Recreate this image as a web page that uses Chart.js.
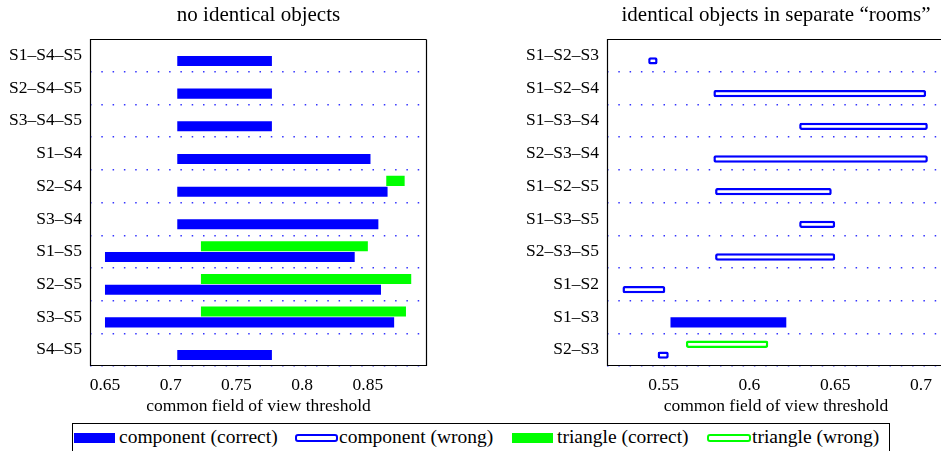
<!DOCTYPE html>
<html>
<head>
<meta charset="utf-8">
<script src="https://cdn.jsdelivr.net/npm/chart.js@4/dist/chart.umd.min.js"></script>
<style>
  html, body { margin: 0; padding: 0; background: #fff; }
  body { width: 941px; height: 451px; position: relative; overflow: hidden; font-family: "Liberation Serif", serif; }
  canvas { position: absolute; top: 0; }
  #left { left: 0; }
  #right { left: 470px; }
  #legend { position: absolute; left: 72px; top: 423px; width: 816px; height: 40px; border: 1px solid #000; }
  .sw { position: absolute; box-sizing: border-box; }
  .txt { position: absolute; font-size: 19.5px; line-height: 20px; white-space: nowrap; color: #000; }
</style>
</head>
<body>
<canvas id="left" width="470" height="422"></canvas>
<canvas id="right" width="475" height="422"></canvas>

<div id="legend"></div>
<div class="sw" style="left:74px;top:433px;width:41px;height:10px;background:#0000ff"></div>
<div class="txt" style="left:119px;top:427px">component (correct)</div>
<div class="sw" style="left:295px;top:434px;width:43px;height:8px;border:2.5px solid #0000ff;border-radius:3px"></div>
<div class="txt" style="left:339px;top:427px">component (wrong)</div>
<div class="sw" style="left:512px;top:433px;width:41px;height:10px;background:#00ff00"></div>
<div class="txt" style="left:557px;top:427px">triangle (correct)</div>
<div class="sw" style="left:707px;top:434px;width:44px;height:8px;border:2.5px solid #00ff00;border-radius:3px"></div>
<div class="txt" style="left:752px;top:427px">triangle (wrong)</div>

<script>
// left panel: no identical objects
const labelsLeft = ['S1–S4–S5', 'S2–S4–S5', 'S3–S4–S5', 'S1–S4', 'S2–S4', 'S3–S4', 'S1–S5', 'S2–S5', 'S3–S5', 'S4–S5'];
const compCorrectLeft = [[0.705, 0.777], [0.705, 0.777], [0.705, 0.777], [0.705, 0.852], [0.705, 0.865],
  [0.705, 0.858], [0.65, 0.84], [0.65, 0.86], [0.65, 0.87], [0.705, 0.777]];
const triCorrectLeft = [null, null, null, null, [0.864, 0.878], null, [0.723, 0.85], [0.723, 0.883], [0.723, 0.879], null];
const ticksLeft = [0.65, 0.7, 0.75, 0.8, 0.85];

// right panel: identical objects in separate rooms
const labelsRight = ['S1–S2–S3', 'S1–S2–S4', 'S1–S3–S4', 'S2–S3–S4', 'S1–S2–S5', 'S1–S3–S5', 'S2–S3–S5', 'S1–S2', 'S1–S3', 'S2–S3'];
const compWrongRight = [[0.541, 0.5465], [0.579, 0.703], [0.629, 0.704], [0.579, 0.704], [0.58, 0.648],
  [0.629, 0.65], [0.58, 0.65], [0.526, 0.551], null, [0.5465, 0.553]];
const compCorrectRight = [null, null, null, null, null, null, null, null, [0.554, 0.6215], null];
const triWrongRight = [null, null, null, null, null, null, null, null, null, [0.563, 0.611]];
const ticksRight = [0.55, 0.6, 0.65, 0.7];

const BLUE = '#0000ff';
const GREEN = '#00ff00';
const serif = 'Liberation Serif';

// black box around the plot area
const frame = {
  id: 'frame',
  afterDraw(chart, args, opts) {
    const { ctx, chartArea: a } = chart;
    const l = Math.round(a.left) + 0.5, r = Math.round(a.right) - 0.5;
    const t = Math.round(a.top) + 0.5, b = Math.round(a.bottom) - 0.5;
    ctx.save();
    ctx.strokeStyle = '#000';
    ctx.lineWidth = 1.2;
    ctx.beginPath();
    ctx.moveTo(r, t);
    ctx.lineTo(l, t);
    ctx.lineTo(l, b);
    ctx.lineTo(r, b);
    if (opts.right !== false) ctx.lineTo(r, t);
    ctx.stroke();
    ctx.restore();
  }
};

const filled = (data, color, stack) => ({
  data, stack, backgroundColor: color, borderWidth: 0,
  categoryPercentage: 0.66, barPercentage: 0.93
});
const outlined = (data, color, stack) => ({
  data, stack, backgroundColor: '#fff', borderColor: color, borderWidth: 2.5,
  borderSkipped: false, borderRadius: 2,
  categoryPercentage: 0.66, barPercentage: 0.68
});

function makeChart(id, labels, datasets, min, max, xTicks, title, yWidth, padRight, drawRight) {
  return new Chart(document.getElementById(id), {
    type: 'bar',
    data: { labels, datasets },
    options: {
      indexAxis: 'y',
      responsive: false,
      animation: false,
      layout: { padding: { right: padRight } },
      plugins: {
        legend: { display: false },
        tooltip: { enabled: false },
        title: {
          display: true, text: title, fullSize: false, color: '#000',
          font: { family: serif, size: 21, weight: 'normal' },
          padding: { top: 3, bottom: 11 }
        },
        frame: { right: drawRight }
      },
      scales: {
        x: {
          min, max, stacked: false,
          afterBuildTicks: s => { s.ticks = xTicks.map(v => ({ value: v })); },
          afterFit: s => { s.height = 56; },
          grid: { display: false, drawTicks: false },
          border: { display: false },
          ticks: { color: '#000', font: { family: serif, size: 17.5 }, padding: 9, callback: v => String(+v.toFixed(2)) },
          title: {
            display: true, text: 'common field of view threshold', color: '#000',
            font: { family: serif, size: 17.5 }, padding: { top: 0, bottom: 5 }
          }
        },
        y: {
          afterFit: s => { s.width = yWidth; },
          grid: {
            // dotted separators between rows only, not on the box edges
            color: c => (c.index === 0 || c.index >= labels.length) ? 'rgba(0,0,0,0)' : 'rgba(30,30,255,0.9)',
            lineWidth: 1.5, drawTicks: false
          },
          border: { display: false, dash: [1.5, 9.8] },
          ticks: { color: '#000', font: { family: serif, size: 17.5 }, padding: 8 }
        }
      }
    },
    plugins: [frame]
  });
}

makeChart('left', labelsLeft, [
  filled(triCorrectLeft, GREEN, 'tri'),
  filled(compCorrectLeft, BLUE, 'comp')
], 0.6386, 0.895, ticksLeft, 'no identical objects', 90, 43, true);

makeChart('right', labelsRight, [
  outlined(triWrongRight, GREEN, 'tri'),
  filled(compCorrectRight, BLUE, 'comp'),
  outlined(compWrongRight, BLUE, 'comp')
], 0.517, 0.714, ticksRight, 'identical objects in separate “rooms”', 137, 0, false);
</script>
</body>
</html>
